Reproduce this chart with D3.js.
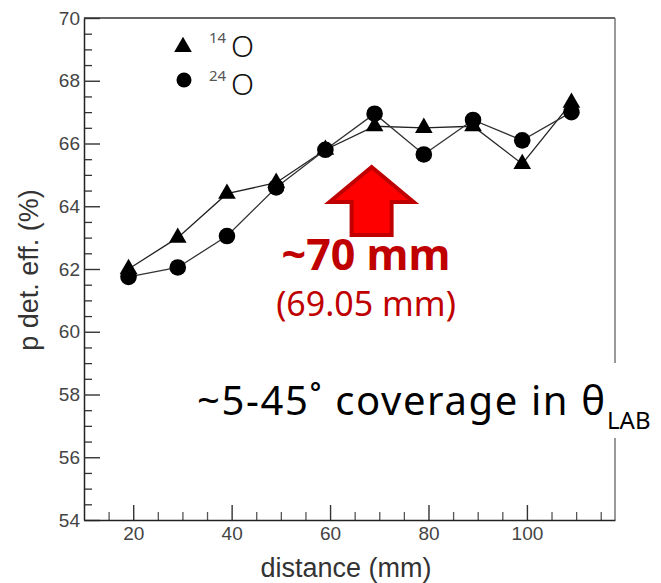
<!DOCTYPE html>
<html>
<head>
<meta charset="utf-8">
<title>p det. eff. vs distance</title>
<style>
  body { margin: 0; background: #fff; }
  svg { display: block; }
  .tick text { font-family: "Liberation Sans", Arial, sans-serif; font-size: 19px; fill: #444; }
  .axis-title { font-family: "Liberation Sans", Arial, sans-serif; font-size: 27px; fill: #333; }
  .note { font-family: "Noto Sans", sans-serif; }
</style>
</head>
<body>
<div id="chart"></div>
<script src="https://cdn.jsdelivr.net/npm/d3@7"></script>
<script>
// distances (mm) and efficiencies (%)
const distances = [19.05, 29.05, 39.05, 49.05, 59.05, 69.05, 79.05, 89.05, 99.05, 109.05];
const eff14O = [62.0, 63.0, 64.4, 64.75, 65.8, 66.55, 66.5, 66.55, 65.35, 67.3];
const eff24O = [61.75, 62.05, 63.05, 64.6, 65.8, 66.95, 65.65, 66.75, 66.1, 67.0];
const seriesNames = ["14", "24"];
const xMajor = [20, 40, 60, 80, 100];
const xMinor = [15, 25, 30, 35, 45, 50, 55, 65, 70, 75, 85, 90, 95, 105, 110, 115];
const yMajor = [54, 56, 58, 60, 62, 64, 66, 68, 70];
const yMinor = d3.range(54.5, 70, 0.5).filter(v => v % 2 !== 0);
const optDist = 69.05;

const width = 661, height = 583;
const mLeft = 84, mRight = 615, mTop = 18, mBottom = 520;

const svg = d3.select("#chart").append("svg")
  .attr("width", width).attr("height", height);

const x = d3.scaleLinear().domain([10, 117.9]).range([mLeft, mRight]);
const y = d3.scaleLinear().domain([54, 70]).range([mBottom, mTop]);

// frame (top + right)
svg.append("line").attr("x1", mLeft).attr("x2", mRight).attr("y1", mTop).attr("y2", mTop)
  .attr("stroke", "#333").attr("stroke-width", 1.5);
svg.append("line").attr("x1", mRight).attr("x2", mRight).attr("y1", mTop).attr("y2", mBottom)
  .attr("stroke", "#777").attr("stroke-width", 1.5);

// y axis
svg.append("g").attr("transform", `translate(${mLeft},0)`)
  .call(d3.axisLeft(y).tickValues(yMinor).tickSize(-8).tickFormat(""))
  .call(g => g.select(".domain").remove())
  .selectAll("line").attr("stroke", "#333").attr("stroke-width", 1.3);
const yAx = svg.append("g").attr("transform", `translate(${mLeft},0)`)
  .call(d3.axisLeft(y).tickValues(yMajor).tickSize(-16).tickPadding(4).tickSizeOuter(0));
yAx.select(".domain").attr("stroke", "#222").attr("stroke-width", 1.5);
yAx.selectAll("line").attr("stroke", "#333").attr("stroke-width", 1.4);

// x axis
svg.append("g").attr("transform", `translate(0,${mBottom})`)
  .call(d3.axisBottom(x).tickValues(xMinor).tickSize(-8).tickFormat(""))
  .call(g => g.select(".domain").remove())
  .selectAll("line").attr("stroke", "#555").attr("stroke-width", 1.3);
const xAx = svg.append("g").attr("transform", `translate(0,${mBottom})`)
  .call(d3.axisBottom(x).tickValues(xMajor).tickSize(-15).tickPadding(7).tickSizeOuter(0));
xAx.select(".domain").attr("stroke", "#222").attr("stroke-width", 1.5);
xAx.selectAll("line").attr("stroke", "#333").attr("stroke-width", 1.4);

// axis titles
svg.append("text").attr("class", "axis-title")
  .attr("x", 346).attr("y", 577).attr("text-anchor", "middle")
  .text("distance (mm)");
svg.append("text").attr("class", "axis-title")
  .attr("transform", "translate(38,270) rotate(-90)").attr("text-anchor", "middle")
  .text("p det. eff. (%)");

// series
const line = d3.line().x(d => x(d[0])).y(d => y(d[1]));
const s14 = distances.map((d, i) => [d, eff14O[i]]);
const s24 = distances.map((d, i) => [d, eff24O[i]]);

svg.append("path").datum(s14).attr("d", line)
  .attr("fill", "none").attr("stroke", "#222").attr("stroke-width", 1.3);
svg.append("path").datum(s24).attr("d", line)
  .attr("fill", "none").attr("stroke", "#333").attr("stroke-width", 1.3);

const tri = d3.symbol().type(d3.symbolTriangle).size(135);
svg.append("g").selectAll("path").data(s14).join("path")
  .attr("d", tri)
  .attr("transform", d => `translate(${x(d[0])},${y(d[1])})`)
  .attr("fill", "#000");
svg.append("g").selectAll("circle").data(s24).join("circle")
  .attr("cx", d => x(d[0])).attr("cy", d => y(d[1])).attr("r", 8.3)
  .attr("fill", "#000");

// legend
const legend = svg.append("g");
legend.append("path").attr("d", tri).attr("transform", "translate(183,47)").attr("fill", "#000");
legend.append("circle").attr("cx", 184).attr("cy", 80).attr("r", 7.5).attr("fill", "#000");
seriesNames.forEach((name, i) => {
  const by = 57 + i * 38;
  legend.append("text").attr("x", 209).attr("y", by - 14)
    .attr("font-family", "Noto Sans, sans-serif").attr("font-size", 15).attr("fill", "#555")
    .text(name);
  legend.append("text").attr("x", 231).attr("y", by)
    .attr("font-family", "Noto Sans, sans-serif").attr("font-size", 30).attr("font-weight", 300)
    .attr("fill", "#111").text("O");
});

// red arrow at the chosen distance
const ax = x(optDist) - 3;
const arrowPts = [
  [ax, 167], [ax + 42, 202], [ax + 20, 202], [ax + 20, 235],
  [ax - 20, 235], [ax - 20, 202], [ax - 42, 202]
];
svg.append("polygon").attr("points", arrowPts.map(p => p.join(",")).join(" "))
  .attr("fill", "#ff0000").attr("stroke", "#c00000").attr("stroke-width", 4)
  .attr("stroke-linejoin", "miter");

svg.append("text").attr("class", "note")
  .attr("x", 366).attr("y", 270).attr("text-anchor", "middle")
  .attr("font-size", 43).attr("font-weight", 700).attr("fill", "#c00000")
  .text("~70 mm");
svg.append("text").attr("class", "note")
  .attr("x", 366).attr("y", 316).attr("text-anchor", "middle")
  .attr("font-size", 34).attr("fill", "#c00000")
  .text("(" + optDist.toFixed(2) + " mm)");

// coverage note on a white box
svg.append("rect").attr("x", 190).attr("y", 363).attr("width", 470).attr("height", 75)
  .attr("fill", "#fff");
svg.append("text").attr("class", "note")
  .attr("x", 197).attr("y", 415).attr("font-size", 40).attr("fill", "#000")
  .attr("textLength", 408).attr("lengthAdjust", "spacing")
  .text("~5-45˚ coverage in θ");
svg.append("text").attr("class", "note")
  .attr("x", 607).attr("y", 429).attr("font-size", 24).attr("fill", "#000")
  .text("LAB");
</script>
</body>
</html>
